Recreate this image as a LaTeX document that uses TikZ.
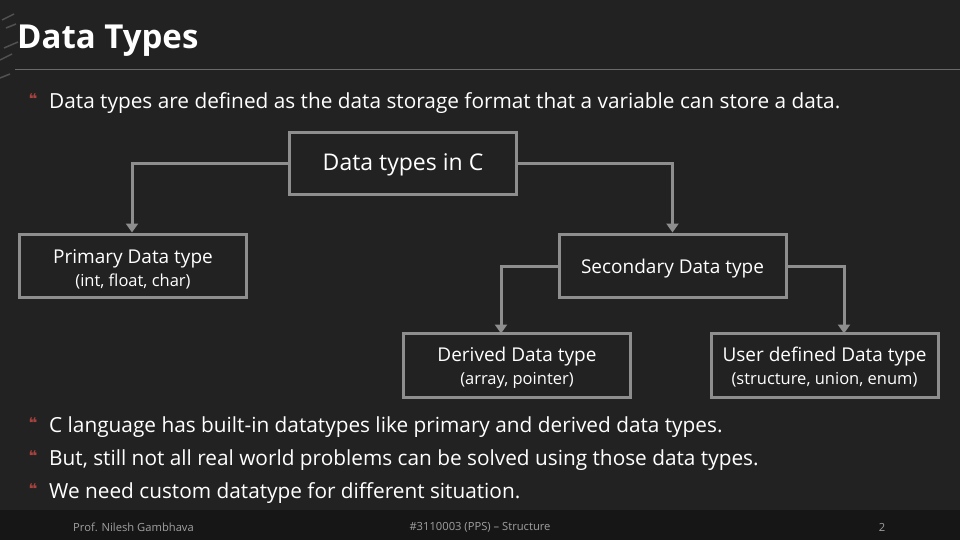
\documentclass[tikz,border=0pt]{standalone}
\usepackage{fontspec}
\setmainfont{Open Sans}
\newfontfamily\symfont{DejaVu Sans}
\usetikzlibrary{arrows.meta}
\definecolor{bg}{HTML}{222222}
\definecolor{foot}{HTML}{161616}
\definecolor{boxc}{HTML}{8E8E8E}
\definecolor{bul}{HTML}{A8423E}
\definecolor{ftxt}{HTML}{A0A0A0}
\definecolor{rulec}{HTML}{6A6A6A}
\begin{document}
\begin{tikzpicture}[x=1pt,y=-1pt,
  box/.style={draw=boxc,line width=3pt,fill=bg,minimum width=227pt,minimum height=62pt,inner sep=0pt,text=white,align=center},
  conn/.style={draw=boxc,line width=3pt,-{Triangle[width=12pt,length=9pt]}},
  main/.style={font=\fontsize{19}{23}\selectfont},
  sub/.style={font=\fontsize{16.5}{20}\selectfont},
  btxt/.style={anchor=west,text=white,inner sep=0pt,font=\fontsize{20.8}{25}\selectfont},
  bmark/.style={anchor=center,text=bul,inner sep=0pt,font=\symfont\bfseries\fontsize{15}{16}\selectfont},
  ftext/.style={text=ftxt,inner sep=0pt,font=\fontsize{11.2}{13}\selectfont}]
\useasboundingbox (0,0) rectangle (960,540);
\fill[bg] (0,0) rectangle (960,540);
\fill[foot] (0,510) rectangle (960,540);
% decorative texture top-left
\begin{scope}[draw=gray,opacity=0.5,line width=1.5pt]
\draw (2,20) -- (14,14);
\draw (4,48) -- (18,42);
\draw (0,60) -- (12,54);
\draw (6,28) -- (16,24);
\draw (0,78) -- (10,74);
\end{scope}
\draw[rulec,line width=1pt] (15,70) -- (960,70);
\node[anchor=west,text=white,inner sep=0pt,font=\fontsize{33}{40}\selectfont\bfseries] (title) at (17,41) {Data Types};

\node[bmark] (b0) at (33,99) {❝};
\node[btxt] (t0) at (49,103) {Data types are defined as the data storage format that a variable can store a data.};

% boxes
\node[box,font=\fontsize{23}{27}\selectfont] (dt) at (403,163.5) {};
\node[text=white,inner sep=0pt,font=\fontsize{23}{27}\selectfont] (dtA) at (403,165) {Data types in C};
\node[box,minimum height=63pt] (prim) at (133,265.5) {};
\node[text=white,inner sep=0pt,main] (primA) at (133,258.5) {Primary Data type};
\node[text=white,inner sep=0pt,sub] (primB) at (133,281) {(int, float, char)};
\node[box,minimum height=63pt] (sec) at (672.5,265.5) {};
\node[text=white,inner sep=0pt,main] (secA) at (672.5,268.5) {Secondary Data type};
\node[box,minimum height=64pt] (der) at (517,365) {};
\node[text=white,inner sep=0pt,main] (derA) at (517,356.5) {Derived Data type};
\node[text=white,inner sep=0pt,sub] (derB) at (517,380) {(array, pointer)};
\node[box,minimum height=64pt] (usr) at (824.5,365) {};
\node[text=white,inner sep=0pt,main] (usrA) at (824.5,356.5) {User defined Data type};
\node[text=white,inner sep=0pt,sub] (usrB) at (824.5,380) {(structure, union, enum)};

% connectors
\coordinate (dA) at (501,333.5);
\coordinate (uA) at (844,333.5);
\draw[conn] (dt.west) -| ([xshift=-1pt]prim.north);
\draw[conn] (dt.east) -| (sec.north);
\draw[conn] ([yshift=-0.5pt]sec.west) -| (dA);
\draw[conn] ([yshift=-0.5pt]sec.east) -| (uA);

% bottom bullets
\node[bmark] (b1) at (33,423) {❝};
\node[btxt] (t1) at (49,427) {C language has built-in datatypes like primary and derived data types.};
\node[bmark] (b2) at (33,456) {❝};
\node[btxt] (t2) at (49,460) {But, still not all real world problems can be solved using those data types.};
\node[bmark] (b3) at (33,489) {❝};
\node[btxt] (t3) at (49,493) {We need custom datatype for different situation.};

% footer
\node[ftext,anchor=west] (f1) at (73,527) {Prof. Nilesh Gambhava};
\node[ftext] (f2) at (480,527) {\#3110003 (PPS) – Structure};
\node[ftext] (f3) at (882,527) {2};
\end{tikzpicture}
\end{document}
